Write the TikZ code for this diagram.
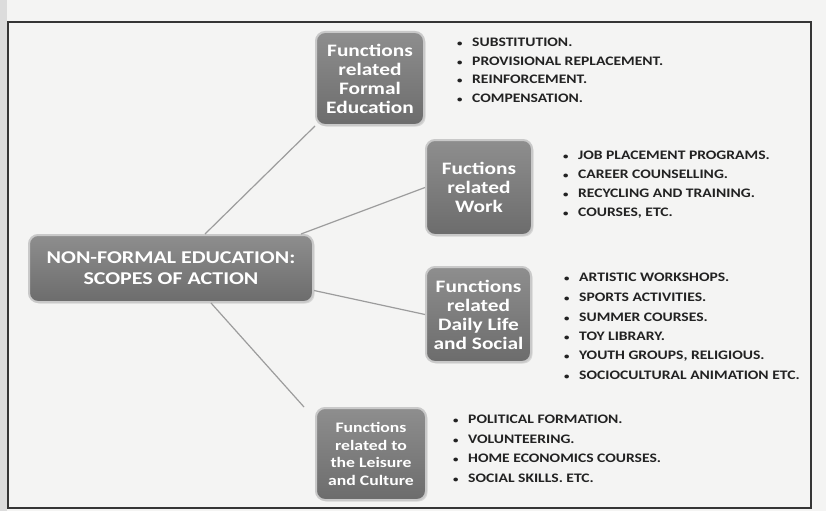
\documentclass[tikz,border=0pt]{standalone}
\usepackage{fontspec}
\setmainfont{Carlito}
\newfontfamily\widefont[FakeStretch=1.22]{Carlito}
\newfontfamily\listfont[FakeStretch=1.2]{Carlito}
\usetikzlibrary{calc,shadows}
\definecolor{pagebg}{HTML}{F4F4F3}
\definecolor{edgestrip}{HTML}{DCDCDC}
\definecolor{framecol}{HTML}{353535}
\definecolor{boxtop}{HTML}{8E8E8E}
\definecolor{boxbot}{HTML}{6C6C6C}
\definecolor{boxedge}{HTML}{C9C9C9}
\definecolor{linegray}{HTML}{9C9C9C}
\definecolor{listtext}{HTML}{222222}
\newcommand{\bul}{\makebox[16pt][l]{\hspace{1pt}\fontsize{9}{9}\selectfont\textbullet}}
\begin{document}
\begin{tikzpicture}[x=1pt,y=-1pt,
  box/.style={rounded corners=9pt, draw=boxedge, line width=2pt,
    top color=boxtop, bottom color=boxbot, text=white,
    font=\widefont\bfseries\fontsize{17.5}{19}\selectfont, align=center, inner sep=0pt,
    drop shadow={opacity=0.22, shadow xshift=1.5pt, shadow yshift=-1.5pt}},
  conn/.style={draw=linegray, line width=1.2pt},
  listitem/.style={anchor=west, font=\listfont\bfseries\fontsize{13}{15}\selectfont,
    text=listtext, inner sep=0pt}]
\useasboundingbox (0,0) rectangle (826,511);
\fill[pagebg] (0,0) rectangle (826,511);
\fill[edgestrip] (0,0) rectangle (7,511);
\draw[framecol, line width=1.3pt] (8,22) rectangle (811,508);

% central node
\node[box, minimum width=284pt, minimum height=67pt,
  font=\widefont\bfseries\fontsize{18}{21}\selectfont] (c) at (171,268.5)
  {NON-FORMAL EDUCATION:\\SCOPES OF ACTION};

% function boxes
\node[box, minimum width=108pt, minimum height=93pt] (b1) at (370,78.5)
  {Functions\\related\\Formal\\Education};
\node[box, minimum width=106pt, minimum height=95pt] (b2) at (479,187.5)
  {Fuctions\\related\\Work};
\node[box, minimum width=105pt, minimum height=95pt] (b3) at (478.5,314.5)
  {Functions\\related\\Daily Life\\and Social};
\node[box, minimum width=110pt, minimum height=92pt,
  font=\widefont\bfseries\fontsize{14.5}{17.5}\selectfont] (b4) at (371,454)
  {Functions\\related to\\the Leisure\\and Culture};

% connectors
\draw[conn] ([xshift=34pt]c.north) -- (b1.south west);
\draw[conn] ([xshift=-13pt]c.north east) -- (b2.west);
\draw[conn] ([yshift=-22pt]c.east) -- (b3.west);
\draw[conn] ([xshift=40pt]c.south) -- ([xshift=-11pt]b4.north west);

% lists
\foreach \t [count=\i] in {SUBSTITUTION., PROVISIONAL REPLACEMENT., REINFORCEMENT., COMPENSATION.}
  \node[listitem] (la\i) at (456, 23.5+18.7*\i) {\bul\t};
\foreach \t [count=\i] in {JOB PLACEMENT PROGRAMS., CAREER COUNSELLING., RECYCLING AND TRAINING., {COURSES, ETC.}}
  \node[listitem] (lb\i) at (562, 136+19.2*\i) {\bul\t};
\foreach \t [count=\i] in {ARTISTIC WORKSHOPS., SPORTS ACTIVITIES., SUMMER COURSES., TOY LIBRARY., {YOUTH GROUPS, RELIGIOUS.}, SOCIOCULTURAL ANIMATION ETC.}
  \node[listitem] (lc\i) at (563, 258+19.6*\i) {\bul\t};
\foreach \t [count=\i] in {POLITICAL FORMATION., VOLUNTEERING., HOME ECONOMICS COURSES., {SOCIAL SKILLS. ETC.}}
  \node[listitem] (ld\i) at (452, 399.5+19.7*\i) {\bul\t};
\end{tikzpicture}
\end{document}
